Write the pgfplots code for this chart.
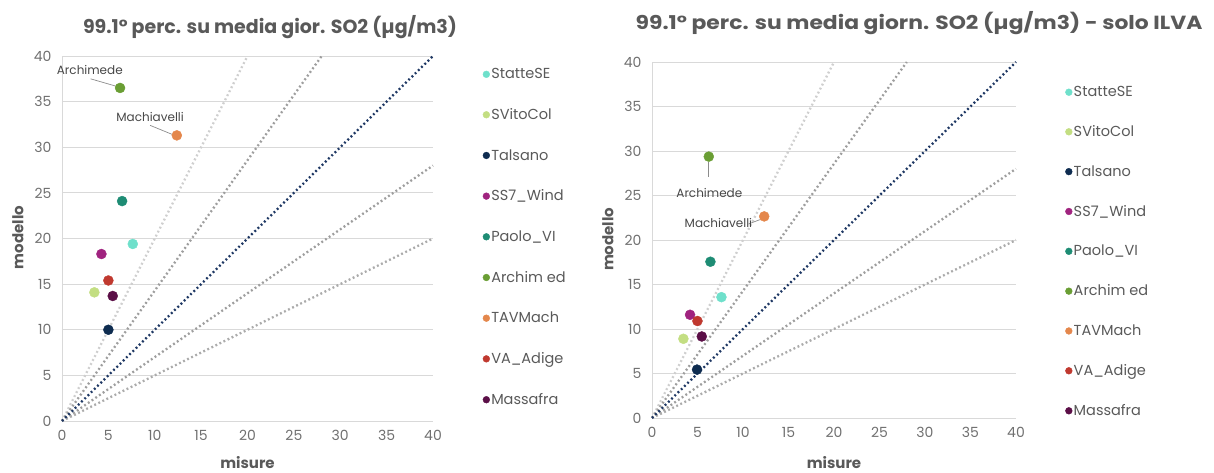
\documentclass[border=0pt]{standalone}
\usepackage{pgfplots}
\pgfplotsset{compat=1.18}
\usepackage{fontspec}
\setmainfont{Poppins}

\definecolor{txtgray}{HTML}{595959}
\definecolor{tickgray}{HTML}{707070}
\definecolor{gridgray}{HTML}{D9D9D9}
\definecolor{lineA}{HTML}{CFCFCF}
\definecolor{lineB}{HTML}{9E9E9E}
\definecolor{lineC}{HTML}{ABABAB}
\definecolor{navy}{HTML}{1F3864}
\definecolor{cStatte}{HTML}{6FE0CB}
\definecolor{cSVito}{HTML}{C3DE82}
\definecolor{cTalsano}{HTML}{0E2C50}
\definecolor{cSS7}{HTML}{A0237F}
\definecolor{cPaolo}{HTML}{1E8C74}
\definecolor{cArchi}{HTML}{6A9E34}
\definecolor{cTAV}{HTML}{E4874C}
\definecolor{cVA}{HTML}{C0392F}
\definecolor{cMassa}{HTML}{5B0F47}

\tikzset{
  lbl/.style={font=\fontsize{12}{14}\selectfont, text=black!72},
  leader/.style={draw=black!45, line width=0.7pt},
}

\pgfplotsset{
  scatterchart/.style={
    scale only axis,
    xmin=0, xmax=40, ymin=0, ymax=40,
    xtick={0,5,...,40}, ytick={0,5,...,40},
    axis x line*=bottom, axis y line*=left,
    axis line style={gridgray, line width=0.8pt},
    ymajorgrids, grid style={gridgray, line width=0.8pt},
    major tick length=0pt,
    tick label style={tickgray, font=\fontsize{14}{16}\selectfont},
    /pgf/number format/assume math mode=true,
    yticklabel style={xshift=-7pt},
    xticklabel style={yshift=-6pt},
    label style={txtgray, font=\fontsize{15}{17}\selectfont\bfseries},
    clip=false,
    legend cell align=left,
    legend style={draw=none, fill=none, row sep=25.3pt, anchor=north west,
      font=\fontsize{14.5}{16}\selectfont, text=txtgray,
      nodes={inner sep=1.5pt}},
    legend image code/.code={\draw[mark repeat=2,mark phase=2,#1,mark size=3.4pt]
      plot coordinates {(0pt,0pt)(3.4pt,0pt)(6.8pt,0pt)};},
  },
  ref/.style={forget plot, line width=2.3pt, dash pattern=on 1.9pt off 2.6pt},
  stn/.style={only marks, mark=*, mark size=5pt, mark options={draw=#1, fill=#1}, color=#1},
}

\begin{document}
\begin{tikzpicture}
\path[use as bounding box] (0pt,0pt) rectangle (1214pt,472pt);

% ---------- all stations ----------
\begin{axis}[scatterchart, width=371pt, height=365pt, at={(62pt,51pt)}, anchor=south west,
  xlabel={misure}, ylabel={modello},
  xlabel style={at={(axis description cs:0.5,-0.115)}, anchor=center},
  ylabel style={at={(axis description cs:-0.119,0.503)}, anchor=center},
  legend style={at={(axis description cs:1.126,0.976)}}]
\addplot[ref, lineA] coordinates {(0,0) (20,40)};
\addplot[ref, lineB] coordinates {(0,0) (28,40)};
\addplot[ref, lineB] coordinates {(0,0) (40,28)};
\addplot[ref, lineC] coordinates {(0,0) (40,20)};
\addplot[ref, navy] coordinates {(0,0) (40,40)};
\addplot[stn=cStatte] coordinates {(7.63,19.4)};
\addlegendentry{StatteSE}
\addplot[stn=cSVito] coordinates {(3.49,14.1)};
\addlegendentry{SVitoCol}
\addplot[stn=cTalsano] coordinates {(5.0,10.0)};
\addlegendentry{Talsano}
\addplot[stn=cSS7] coordinates {(4.25,18.3)};
\addlegendentry{SS7\_Wind}
\addplot[stn=cPaolo] coordinates {(6.48,24.1)};
\addlegendentry{Paolo\_VI}
\addplot[stn=cArchi] coordinates {(6.26,36.5)};
\addlegendentry{Archim ed}
\addplot[stn=cTAV] coordinates {(12.38,31.3)};
\addlegendentry{TAVMach}
\addplot[stn=cVA] coordinates {(5.0,15.4)};
\addlegendentry{VA\_Adige}
\addplot[stn=cMassa] coordinates {(5.47,13.7)};
\addlegendentry{Massafra}
\draw[leader] (axis cs:3.08,37.5) -- (axis cs:5.8,36.7);
\node[lbl] at (axis cs:3.0,38.5) {Archimede};
\draw[leader] (axis cs:9.5,32.4) -- (axis cs:11.9,31.4);
\node[lbl] at (axis cs:9.5,33.3) {Machiavelli};
\end{axis}
\node[txtgray, font=\fontsize{19}{23}\selectfont\bfseries] at (270pt,445pt) {99.1° perc. su media gior. SO2 (µg/m3)};

% ---------- ILVA only ----------
\begin{axis}[scatterchart, width=364pt, height=356pt, at={(652pt,54pt)}, anchor=south west,
  xlabel={misure}, ylabel={modello},
  xlabel style={at={(axis description cs:0.5,-0.124)}, anchor=center},
  ylabel style={at={(axis description cs:-0.121,0.502)}, anchor=center},
  legend style={at={(axis description cs:1.127,0.942)}, row sep=24.45pt}]
\addplot[ref, lineA] coordinates {(0,0) (20,40)};
\addplot[ref, lineB] coordinates {(0,0) (28,40)};
\addplot[ref, lineB] coordinates {(0,0) (40,28)};
\addplot[ref, lineC] coordinates {(0,0) (40,20)};
\addplot[ref, navy] coordinates {(0,0) (40,40)};
\addplot[stn=cStatte] coordinates {(7.63,13.58)};
\addlegendentry{StatteSE}
\addplot[stn=cSVito] coordinates {(3.45,8.9)};
\addlegendentry{SVitoCol}
\addplot[stn=cTalsano] coordinates {(4.95,5.44)};
\addlegendentry{Talsano}
\addplot[stn=cSS7] coordinates {(4.18,11.6)};
\addlegendentry{SS7\_Wind}
\addplot[stn=cPaolo] coordinates {(6.42,17.56)};
\addlegendentry{Paolo\_VI}
\addplot[stn=cArchi] coordinates {(6.24,29.37)};
\addlegendentry{Archim ed}
\addplot[stn=cTAV] coordinates {(12.33,22.65)};
\addlegendentry{TAVMach}
\addplot[stn=cVA] coordinates {(4.99,10.9)};
\addlegendentry{VA\_Adige}
\addplot[stn=cMassa] coordinates {(5.47,9.16)};
\addlegendentry{Massafra}
\draw[leader] (axis cs:6.24,28.8) -- (axis cs:6.24,27.1);
\node[lbl] at (axis cs:6.3,25.3) {Archimede};
\draw[leader] (axis cs:10.6,21.8) -- (axis cs:11.9,22.3);
\node[lbl] at (axis cs:7.3,21.9) {Machiavelli};
\end{axis}
\node[txtgray, font=\fontsize{19}{23}\selectfont\bfseries, xscale=1.15] at (919pt,449pt) {99.1° perc. su media giorn. SO2 (µg/m3) - solo ILVA};
\end{tikzpicture}
\end{document}
